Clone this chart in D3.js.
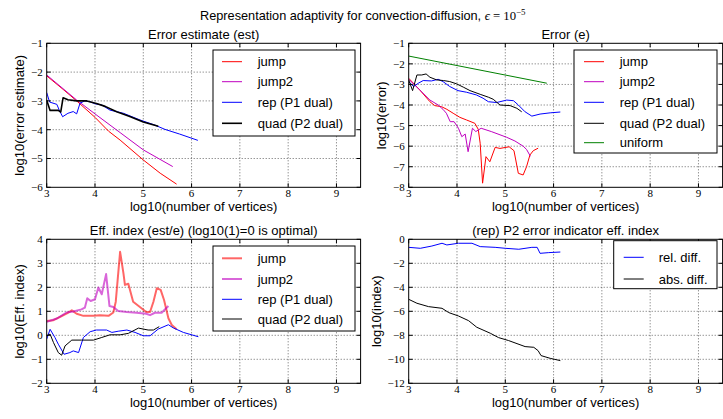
<!DOCTYPE html>
<html>
<head>
<meta charset="utf-8">
<script src="https://cdn.jsdelivr.net/npm/d3@7"></script>
<style>
  body { margin: 0; background: #fff; }
  text { font-family: "Liberation Sans", Arial, sans-serif; fill: #000; }
  .tick-label { font-family: "Liberation Serif", "DejaVu Serif", serif; font-size: 11px; }
</style>
</head>
<body>
<div id="chart"></div>
<script>
// ---- data ----
const xTicks = [3, 4, 5, 6, 7, 8, 9];

// panel 1: error estimate
const estJumpX  = [3, 3.34, 3.62, 4.0, 4.28, 4.52, 5.0, 5.35, 5.69];
const estJumpY  = [-2.13, -2.6, -3.0, -3.57, -4.05, -4.36, -5.05, -5.51, -5.89];
const estJump2X = [3, 3.62, 4.0, 4.52, 5.0, 5.61];
const estJump2Y = [-2.1, -2.97, -3.45, -4.1, -4.7, -5.28];
const estRepX   = [3, 3.06, 3.21, 3.26, 3.33, 3.44, 3.55, 3.62, 3.69, 3.79, 3.9, 4.0, 4.14, 4.31, 4.59, 4.93, 5.24, 5.45, 5.75, 6.13];
const estRepY   = [-2.71, -3.04, -3.12, -3.32, -3.55, -3.43, -3.37, -3.45, -3.08, -3.0, -3.03, -3.1, -3.14, -3.32, -3.43, -3.66, -3.84, -3.99, -4.15, -4.37];
const estQuadX  = [3, 3.07, 3.24, 3.29, 3.34, 3.44, 3.62, 3.83, 4.03, 4.21, 4.45, 4.72, 5.0, 5.31];
const estQuadY  = [-2.98, -3.33, -3.33, -3.39, -2.89, -2.96, -3.0, -3.0, -3.09, -3.19, -3.38, -3.54, -3.73, -3.88];

// panel 2: error
const errJumpX  = [3, 3.23, 3.44, 3.54, 3.68, 3.79, 3.92, 4.06, 4.2, 4.37, 4.44, 4.48, 4.53, 4.6, 4.68, 4.79, 4.89, 5.08, 5.18, 5.27, 5.37, 5.44, 5.51, 5.58, 5.68];
const errJumpY  = [-2.7, -3.27, -3.84, -4.03, -4.08, -4.21, -4.4, -4.6, -4.73, -4.89, -5.18, -5.86, -7.8, -6.51, -6.76, -6.06, -6.11, -6.03, -6.22, -7.32, -7.4, -7.0, -6.43, -6.22, -6.1];
const errJump2X = [3, 3.23, 3.44, 3.61, 3.71, 3.78, 3.86, 3.94, 4.03, 4.1, 4.17, 4.23, 4.32, 4.39, 4.5, 4.71, 5.03, 5.2, 5.37, 5.44, 5.52];
const errJump2Y = [-2.75, -3.27, -3.76, -4.0, -4.21, -4.4, -4.81, -4.81, -5.13, -5.54, -5.41, -6.27, -5.13, -5.29, -5.13, -5.29, -5.57, -5.75, -6.0, -6.16, -6.49];
const errRepX   = [3, 3.1, 3.2, 3.3, 3.47, 3.61, 3.71, 3.85, 4.02, 4.2, 4.4, 4.54, 4.65, 4.82, 5.03, 5.17, 5.27, 5.41, 5.55, 5.72, 5.93, 6.14];
const errRepY   = [-2.86, -3.1, -2.94, -2.81, -2.83, -2.75, -2.86, -3.1, -3.3, -3.38, -3.51, -3.67, -3.84, -3.88, -3.76, -3.79, -4.0, -4.33, -4.54, -4.44, -4.38, -4.34];
const errQuadX  = [3, 3.08, 3.17, 3.27, 3.36, 3.44, 3.58, 3.72, 3.85, 3.99, 4.13, 4.27, 4.48, 4.65, 4.75, 4.89, 5.1, 5.24, 5.34];
const errQuadY  = [-2.78, -3.3, -2.54, -2.54, -2.49, -2.65, -2.78, -2.81, -2.86, -2.97, -3.13, -3.3, -3.48, -3.62, -3.72, -4.0, -4.03, -4.16, -4.33];
const errUniX   = [3, 5.86];
const errUniY   = [-1.62, -2.94];

// panel 3: efficiency index
const effJumpX  = [3, 3.14, 3.28, 3.41, 3.52, 3.62, 3.76, 3.97, 4.1, 4.28, 4.38, 4.43, 4.52, 4.59, 4.62, 4.69, 4.79, 4.93, 5.06, 5.14, 5.21, 5.28, 5.36, 5.43, 5.52, 5.59, 5.69];
const effJumpY  = [0.6, 0.63, 0.77, 0.9, 1.04, 0.9, 0.81, 0.81, 0.84, 0.81, 0.95, 1.4, 3.48, 2.57, 2.1, 2.15, 1.4, 1.18, 0.97, 0.97, 1.4, 1.96, 1.89, 1.47, 0.71, 0.43, 0.25];
const effJump2X = [3, 3.21, 3.41, 3.55, 3.72, 3.79, 3.84, 3.91, 4.0, 4.07, 4.14, 4.23, 4.3, 4.38, 4.48, 4.66, 4.86, 5.06, 5.14, 5.24, 5.38, 5.52];
const effJump2Y = [0.56, 0.7, 0.95, 0.99, 1.08, 1.15, 1.54, 1.43, 1.5, 1.99, 1.71, 2.55, 1.22, 1.18, 1.01, 0.97, 0.94, 0.9, 0.84, 0.94, 0.94, 1.22];
const effRepX   = [3, 3.07, 3.17, 3.24, 3.36, 3.48, 3.55, 3.66, 3.76, 3.9, 4.03, 4.24, 4.35, 4.48, 4.66, 4.83, 5.0, 5.14, 5.31, 5.52, 5.62, 5.83, 6.14];
const effRepY   = [-0.16, 0.25, -0.09, -0.37, -0.79, -0.72, -0.65, -0.72, -0.09, 0.15, 0.22, 0.22, 0.12, 0.17, 0.22, 0.12, -0.02, -0.02, 0.26, 0.44, 0.31, 0.12, -0.06];
const effQuadX  = [3, 3.07, 3.14, 3.24, 3.31, 3.38, 3.52, 3.72, 3.97, 4.14, 4.31, 4.52, 4.69, 4.9, 5.1, 5.21, 5.33];
const effQuadY  = [-0.02, 0.05, -0.3, -0.72, -0.83, -0.44, -0.2, -0.2, -0.2, -0.09, 0.02, 0.02, 0.08, 0.3, 0.22, 0.22, 0.36];

// panel 4: P2 indicator
const indRelX = [3, 3.24, 3.48, 3.69, 3.79, 4.03, 4.31, 4.48, 4.79, 5.0, 5.28, 5.55, 5.66, 5.72, 5.9, 6.14];
const indRelY = [-0.67, -0.75, -0.56, -0.33, -0.47, -0.33, -0.33, -0.61, -0.67, -0.75, -0.83, -0.67, -0.67, -1.17, -1.11, -1.06];
const indAbsX = [3, 3.17, 3.41, 3.69, 3.83, 4.03, 4.24, 4.41, 4.69, 4.86, 5.07, 5.41, 5.59, 5.68, 5.74, 5.93, 6.14];
const indAbsY = [-5.0, -5.33, -5.61, -5.75, -6.11, -6.39, -6.78, -7.33, -7.83, -8.19, -8.44, -8.94, -9.0, -9.28, -9.69, -9.92, -10.11];

const zip = (xs, ys) => xs.map((x, i) => [x, ys[i]]);

const panels = [
  {
    left: 46.7, top: 43.3, title: "Error estimate (est)", ylabel: "log10(error estimate)",
    ylabelX: 24, ydomain: [-6, -1], yticks: d3.range(-6, 0, 1),
    legend: { x: 213, y: 50, w: 142, h: 86, lineX: 222, textX: 257.7, rows: [61.7, 81.7, 102.3, 123.3] },
    series: [
      { name: "jump", color: "#ff0000", data: zip(estJumpX, estJumpY) },
      { name: "jump2", color: "#bf00bf", data: zip(estJump2X, estJump2Y) },
      { name: "rep (P1 dual)", color: "#0000ff", data: zip(estRepX, estRepY) },
      { name: "quad (P2 dual)", color: "#000", data: zip(estQuadX, estQuadY), width: 1.6 }
    ]
  },
  {
    left: 408.7, top: 43.3, title: "Error (e)", ylabel: "log10(error)",
    ylabelX: 386, ydomain: [-8, -1], yticks: d3.range(-8, 0, 1),
    legend: { x: 574, y: 50, w: 143, h: 103, lineX: 584, textX: 619.7, rows: [61.7, 81.7, 102.3, 123.3, 142.7] },
    series: [
      { name: "jump", color: "#ff0000", data: zip(errJumpX, errJumpY) },
      { name: "jump2", color: "#bf00bf", data: zip(errJump2X, errJump2Y) },
      { name: "rep (P1 dual)", color: "#0000ff", data: zip(errRepX, errRepY) },
      { name: "quad (P2 dual)", color: "#000", data: zip(errQuadX, errQuadY) },
      { name: "uniform", color: "#008000", data: zip(errUniX, errUniY) }
    ]
  },
  {
    left: 46.7, top: 239.3, title: "Eff. index (est/e) (log10(1)=0 is optimal)", ylabel: "log10(Eff. index)",
    ylabelX: 24, ydomain: [-2, 4], yticks: d3.range(-2, 5, 1),
    legend: { x: 213, y: 246, w: 142, h: 85, lineX: 222, textX: 257.7, rows: [258.3, 279, 299.3, 319] },
    series: [
      { name: "jump", color: "#ff0000", data: zip(effJumpX, effJumpY), width: 2, opacity: 0.6 },
      { name: "jump2", color: "#bf00bf", data: zip(effJump2X, effJump2Y), width: 2, opacity: 0.6 },
      { name: "rep (P1 dual)", color: "#0000ff", data: zip(effRepX, effRepY) },
      { name: "quad (P2 dual)", color: "#000", data: zip(effQuadX, effQuadY) }
    ]
  },
  {
    left: 408.7, top: 239.3, title: "(rep) P2 error indicator eff. index", ylabel: "log10(index)",
    ylabelX: 381, ydomain: [-12, 0], yticks: d3.range(-12, 1, 2),
    legend: { x: 613.7, y: 240.7, w: 103.3, h: 48, lineX: 623.7, textX: 658.7, rows: [257.3, 279] },
    series: [
      { name: "rel. diff.", color: "#0000ff", data: zip(indRelX, indRelY) },
      { name: "abs. diff.", color: "#000", data: zip(indAbsX, indAbsY) }
    ]
  }
];

const width = 723, height = 419;
const plotW = 313.9, plotH = 144;

const svg = d3.select("#chart").append("svg")
  .attr("width", width)
  .attr("height", height);

// figure title, sized so the plain-text part spans about 282px like the reference
const sup = svg.append("text")
  .attr("x", 200)
  .attr("y", 20)
  .style("font-size", "12px");
const supMain = sup.append("tspan").text("Representation adaptivity for convection-diffusion, ");
sup.append("tspan").style("font-family", "'Liberation Serif', serif").style("font-style", "italic").text("\u03f5");
sup.append("tspan").style("font-family", "'Liberation Serif', serif").text(" = 10");
sup.append("tspan").style("font-family", "'Liberation Serif', serif").style("font-size", "0.7em").attr("dy", -5).text("\u22125");
const mainLen = supMain.node().getComputedTextLength();
if (mainLen > 0) sup.style("font-size", (12 * 285 / mainLen).toFixed(2) + "px");

panels.forEach((p, idx) => {
  const x = d3.scaleLinear().domain([3, 9.5]).range([0, plotW]);
  const y = d3.scaleLinear().domain(p.ydomain).range([plotH, 0]);

  const g = svg.append("g").attr("transform", `translate(${p.left},${p.top})`);

  g.append("defs").append("clipPath").attr("id", "clip" + idx)
    .append("rect").attr("width", plotW).attr("height", plotH);

  // gridlines
  g.append("g").selectAll("line").data(xTicks.slice(1)).join("line")
    .attr("x1", d => x(d)).attr("x2", d => x(d))
    .attr("y1", 0).attr("y2", plotH)
    .attr("stroke", "#000").attr("stroke-width", 0.6).attr("stroke-dasharray", "1,2");
  g.append("g").selectAll("line").data(p.yticks.slice(1, -1)).join("line")
    .attr("x1", 0).attr("x2", plotW)
    .attr("y1", d => y(d)).attr("y2", d => y(d))
    .attr("stroke", "#000").attr("stroke-width", 0.6).attr("stroke-dasharray", "1,2");

  // series
  const line = d3.line().x(d => x(d[0])).y(d => y(d[1]));
  const lines = g.append("g").attr("clip-path", `url(#clip${idx})`);
  p.series.forEach(s => {
    lines.append("path")
      .attr("d", line(s.data))
      .attr("fill", "none")
      .attr("stroke", s.color)
      .attr("stroke-width", s.width || 1)
      .attr("stroke-opacity", s.opacity || 1)
      .attr("stroke-linejoin", "round");
  });

  // ticks inside on all four sides
  const ticks = g.append("g");
  xTicks.forEach(t => {
    ticks.append("line").attr("x1", x(t)).attr("x2", x(t)).attr("y1", plotH).attr("y2", plotH - 4).attr("stroke", "#000");
    ticks.append("line").attr("x1", x(t)).attr("x2", x(t)).attr("y1", 0).attr("y2", 4).attr("stroke", "#000");
    ticks.append("text").attr("class", "tick-label")
      .attr("x", x(t)).attr("y", plotH + 10)
      .attr("text-anchor", "middle").text(t);
  });
  p.yticks.forEach(t => {
    ticks.append("line").attr("x1", 0).attr("x2", 4).attr("y1", y(t)).attr("y2", y(t)).attr("stroke", "#000");
    ticks.append("line").attr("x1", plotW).attr("x2", plotW - 4).attr("y1", y(t)).attr("y2", y(t)).attr("stroke", "#000");
    ticks.append("text").attr("class", "tick-label")
      .attr("x", -4).attr("y", y(t) + 4)
      .attr("text-anchor", "end").text(t < 0 ? "\u2212" + Math.abs(t) : t);
  });

  // frame
  g.append("rect").attr("width", plotW).attr("height", plotH)
    .attr("fill", "none").attr("stroke", "#000").attr("stroke-width", 1);

  // titles and labels
  g.append("text").attr("x", plotW / 2).attr("y", -4.5)
    .attr("text-anchor", "middle").style("font-size", "13px").text(p.title);
  g.append("text").attr("x", plotW / 2).attr("y", plotH + 24)
    .attr("text-anchor", "middle").style("font-size", "13px").text("log10(number of vertices)");
  svg.append("text")
    .attr("transform", `translate(${p.ylabelX},${p.top + plotH / 2}) rotate(-90)`)
    .attr("text-anchor", "middle").style("font-size", "13px").text(p.ylabel);

  // legend
  const L = p.legend;
  svg.append("rect").attr("x", L.x).attr("y", L.y).attr("width", L.w).attr("height", L.h)
    .attr("fill", "#fff").attr("stroke", "#000").attr("stroke-width", 1);
  p.series.forEach((s, i) => {
    svg.append("line")
      .attr("x1", L.lineX).attr("x2", L.lineX + 20)
      .attr("y1", L.rows[i]).attr("y2", L.rows[i])
      .attr("stroke", s.color)
      .attr("stroke-width", s.width || 1)
      .attr("stroke-opacity", s.opacity || 1);
    svg.append("text").attr("x", L.textX).attr("y", L.rows[i] + 4.5)
      .style("font-size", "13px").text(s.name);
  });
});
</script>
</body>
</html>
